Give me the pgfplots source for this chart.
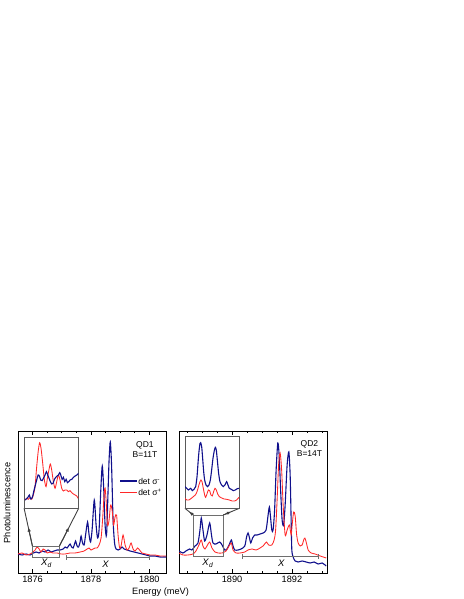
\documentclass[border=0pt]{standalone}
\usepackage{pgfplots}
\pgfplotsset{compat=1.18}
\usepackage{fontspec}
\setmainfont{Liberation Sans}
\usetikzlibrary{arrows.meta}
\definecolor{bl}{RGB}{16,16,140}
\definecolor{rd}{RGB}{255,40,40}
\definecolor{annot}{RGB}{110,110,110}
\tikzset{
  bline/.style={bl, line width=1.1pt},
  rline/.style={rd, line width=0.85pt},
  an/.style={annot, line width=0.9pt},
}
\pgfplotsset{
  mainax/.style={
    scale only axis, width=148pt, height=142pt, anchor=south west,
    ymin=0, ymax=142, ytick=\empty,
    xtick distance=2, minor x tick num=3,
    tick align=inside,
    major tick length=4pt, minor tick length=2.5pt,
    axis line style={line width=0.8pt},
    every tick/.style={black, line width=0.6pt},
    ticklabel style={font=\fontsize{9.2}{10}\selectfont},
    /pgf/number format/assume math mode=true,
    xticklabel style={/pgf/number format/1000 sep={}},
  },
  insax/.style={
    scale only axis, anchor=south west,
    xtick=\empty, ytick=\empty,
    axis line style={black!65, line width=1pt},
    axis background/.style={fill=white},
  },
}
\begin{document}
\begin{tikzpicture}[x=1pt,y=1pt]
\path[use as bounding box] (0pt,0pt) rectangle (463pt,599pt);

% ---------------- Panel 1 ----------------
\begin{axis}[mainax, at={(18pt,26pt)}, xmin=1875.5, xmax=1880.57]
\addplot[bline, smooth, tension=0.45] coordinates {
(1875.503,19)(1875.640,18)(1875.777,19)(1875.914,18)(1876.017,20)(1876.120,21)(1876.223,20)
(1876.325,22)(1876.428,21)(1876.531,23)(1876.634,21)(1876.736,22)(1876.839,23)(1876.942,23)
(1877.045,24)(1877.113,26)(1877.182,25)(1877.233,27)(1877.284,29)(1877.336,26)(1877.387,25)
(1877.438,29)(1877.473,32)(1877.524,27)(1877.575,26)(1877.627,31)(1877.661,37)(1877.712,30)
(1877.764,28)(1877.815,38)(1877.884,51)(1877.935,38)(1877.986,31)(1878.038,43)(1878.113,73)
(1878.175,48)(1878.226,35)(1878.277,43)(1878.336,83)(1878.387,107)(1878.438,83)(1878.483,48)
(1878.534,38)(1878.586,83)(1878.620,113)(1878.661,131)(1878.705,108)(1878.757,53)(1878.808,30)
(1878.860,24)(1878.928,23)(1878.997,24)(1879.065,26)(1879.134,24)(1879.236,23)(1879.339,22)
(1879.476,21)(1879.613,20)(1879.750,19)(1879.887,18)(1880.024,17)(1880.195,17)(1880.366,16)
(1880.572,16)};
\addplot[rline, smooth, tension=0.45] coordinates {
(1875.503,19)(1875.640,20)(1875.777,18)(1875.914,19)(1876.017,21)(1876.086,23)(1876.154,26)
(1876.223,24)(1876.291,21)(1876.360,24)(1876.428,23)(1876.497,20)(1876.599,21)(1876.702,20)
(1876.839,20)(1876.976,19)(1877.113,19)(1877.284,20)(1877.455,20)(1877.627,21)(1877.764,22)
(1877.866,24)(1877.935,25)(1878.003,23)(1878.072,24)(1878.140,25)(1878.209,25)(1878.277,28)
(1878.346,35)(1878.397,53)(1878.449,78)(1878.483,85)(1878.517,73)(1878.568,48)(1878.620,53)
(1878.671,68)(1878.723,63)(1878.774,48)(1878.825,56)(1878.877,58)(1878.928,38)(1878.980,25)
(1879.031,27)(1879.099,38)(1879.168,28)(1879.236,23)(1879.305,25)(1879.373,30)(1879.442,24)
(1879.510,22)(1879.596,25)(1879.664,23)(1879.750,20)(1879.887,19)(1880.024,18)(1880.195,18)
(1880.366,17)(1880.572,17)};
% legend (drawn as annotation)
\draw[bl, line width=1.1pt] (axis cs:1878.997,92) -- (axis cs:1879.569,92);
\draw[rd, line width=0.85pt] (axis cs:1878.997,81) -- (axis cs:1879.569,81);
\node[anchor=west, inner sep=0pt, font=\fontsize{8.5}{9}\selectfont] at (axis cs:1879.613,92) {det σ\textsuperscript{-}};
\node[anchor=west, inner sep=0pt, font=\fontsize{8.5}{9}\selectfont] at (axis cs:1879.613,81) {det σ\textsuperscript{+}};
% annotations
\draw[an] (axis cs:1875.994,16) rectangle (axis cs:1876.919,27);
\draw[an] (axis cs:1877.171,13.5) -- (axis cs:1877.171,18.5);
\draw[an] (axis cs:1877.171,16) -- (axis cs:1880,16);
\draw[an] (axis cs:1880,13.5) -- (axis cs:1880,18.5);
\draw[an, black!75] (axis cs:1875.994,27) -- (axis cs:1875.709,64.7);
\draw[an, black!75] (axis cs:1876.919,27) -- (axis cs:1877.58,64.7);
\draw[an, black!75, -{Latex[length=4.5pt,width=3.5pt]}] (axis cs:1875.994,27) -- (axis cs:1875.852,45.85);
\draw[an, black!75, -{Latex[length=4.5pt,width=3.5pt]}] (axis cs:1876.919,27) -- (axis cs:1877.25,45.85);
\node[font=\fontsize{9.5}{10}\selectfont] at (axis cs:1876.48,10) {\textit{X}\textsubscript{\textit{d}}};
\node[font=\fontsize{9.5}{10}\selectfont] at (axis cs:1878.5,9) {\textit{X}};
\node[font=\fontsize{8.5}{9}\selectfont] at (axis cs:1879.85,128) {QD1};
\node[font=\fontsize{8.5}{9}\selectfont] at (axis cs:1879.85,118.7) {B=11T};
\end{axis}

% inset 1
\begin{axis}[insax, at={(24pt,90.7pt)}, width=54.7pt, height=70.6pt,
  xmin=1876, xmax=1876.918, ymin=0, ymax=212]
\addplot[rline, smooth, tension=0.45] coordinates {
(1876.017,25)(1876.045,30)(1876.073,27)(1876.101,33)(1876.129,27)(1876.157,40)(1876.185,65)
(1876.213,125)(1876.241,175)(1876.263,197)(1876.286,180)(1876.314,135)(1876.342,85)(1876.370,65)
(1876.392,90)(1876.420,117)(1876.442,133)(1876.465,115)(1876.493,80)(1876.521,60)(1876.549,80)
(1876.577,100)(1876.605,85)(1876.633,60)(1876.661,52)(1876.689,55)(1876.717,55)(1876.745,50)
(1876.773,53)(1876.801,47)(1876.829,43)(1876.857,40)(1876.885,37)(1876.907,30)};
\addplot[bline, smooth, tension=0.45] coordinates {
(1876.017,25)(1876.045,29)(1876.073,35)(1876.090,40)(1876.112,28)(1876.140,33)(1876.163,50)
(1876.191,70)(1876.213,85)(1876.236,100)(1876.258,97)(1876.280,85)(1876.303,83)(1876.325,90)
(1876.353,100)(1876.376,110)(1876.398,100)(1876.421,90)(1876.443,80)(1876.466,73)(1876.488,75)
(1876.510,87)(1876.533,93)(1876.555,97)(1876.578,100)(1876.600,107)(1876.617,100)(1876.640,87)
(1876.662,93)(1876.684,80)(1876.707,87)(1876.729,77)(1876.752,80)(1876.774,85)(1876.802,87)
(1876.830,93)(1876.858,97)(1876.886,100)(1876.914,105)};
\end{axis}

% ---------------- Panel 2 ----------------
\begin{axis}[mainax, at={(179pt,26pt)}, xmin=1888.23, xmax=1893.17]
\addplot[bline, smooth, tension=0.45] coordinates {
(1888.227,22)(1888.361,20)(1888.462,22)(1888.585,24)(1888.662,23)(1888.763,27)(1888.863,30)
(1888.930,43)(1888.973,55)(1889.030,43)(1889.087,32)(1889.164,38)(1889.254,50)(1889.314,38)
(1889.365,30)(1889.465,29)(1889.589,31)(1889.666,28)(1889.756,23)(1889.833,24)(1889.916,29)
(1889.977,33)(1890.033,27)(1890.090,23)(1890.201,23)(1890.301,24)(1890.425,27)(1890.485,36)
(1890.535,40)(1890.585,35)(1890.625,30)(1890.686,35)(1890.759,38)(1890.836,38)(1890.936,39)
(1891.037,40)(1891.137,43)(1891.204,58)(1891.247,66)(1891.288,55)(1891.328,43)(1891.371,43)
(1891.421,63)(1891.472,103)(1891.528,130)(1891.572,118)(1891.622,83)(1891.672,53)(1891.722,48)
(1891.773,68)(1891.839,108)(1891.896,121)(1891.940,98)(1891.973,53)(1891.996,23)(1892.040,16)
(1892.107,12)(1892.207,11)(1892.341,12)(1892.475,11)(1892.609,10)(1892.742,11)(1892.876,9)
(1893.010,10)(1893.144,7)};
\addplot[rline, smooth, tension=0.45] coordinates {
(1888.227,20)(1888.361,18)(1888.528,18)(1888.696,19)(1888.796,22)(1888.896,28)(1888.973,33)
(1889.030,27)(1889.097,24)(1889.181,28)(1889.254,31)(1889.331,25)(1889.431,21)(1889.532,20)
(1889.666,20)(1889.799,22)(1889.900,27)(1889.977,30)(1890.033,23)(1890.134,20)(1890.268,20)
(1890.425,21)(1890.535,23)(1890.669,24)(1890.803,23)(1890.936,25)(1891.037,27)(1891.147,31)
(1891.221,28)(1891.328,28)(1891.405,33)(1891.455,43)(1891.505,73)(1891.555,108)(1891.605,120)
(1891.656,103)(1891.706,68)(1891.773,38)(1891.839,43)(1891.916,48)(1891.973,38)(1892.007,48)
(1892.057,61)(1892.107,57)(1892.157,38)(1892.207,30)(1892.274,27)(1892.341,28)(1892.391,33)
(1892.431,35)(1892.475,31)(1892.542,23)(1892.642,20)(1892.776,19)(1892.943,17)(1893.144,15)};
\draw[an] (axis cs:1888.706,16.3) rectangle (axis cs:1889.709,58);
\draw[an] (axis cs:1890.344,13.8) -- (axis cs:1890.344,18.8);
\draw[an] (axis cs:1890.344,16.3) -- (axis cs:1892.876,16.3);
\draw[an] (axis cs:1892.876,13.8) -- (axis cs:1892.876,18.8);
\draw[an, black!75] (axis cs:1888.706,58) -- (axis cs:1888.428,64.7);
\draw[an, black!75] (axis cs:1889.709,58) -- (axis cs:1890.244,64.7);
\draw[an, black!75, -{Latex[length=4.5pt,width=3.5pt]}] (axis cs:1888.706,58) -- (axis cs:1888.567,61.35);
\draw[an, black!75, -{Latex[length=4.5pt,width=3.5pt]}] (axis cs:1889.709,58) -- (axis cs:1889.977,61.35);
\node[font=\fontsize{9.5}{10}\selectfont] at (axis cs:1889.197,10) {\textit{X}\textsubscript{\textit{d}}};
\node[font=\fontsize{9.5}{10}\selectfont] at (axis cs:1891.649,9.5) {\textit{X}};
\node[font=\fontsize{8.5}{9}\selectfont] at (axis cs:1892.585,128.7) {QD2};
\node[font=\fontsize{8.5}{9}\selectfont] at (axis cs:1892.585,119.7) {B=14T};
\end{axis}

% inset 2
\begin{axis}[insax, at={(185pt,90.7pt)}, width=54.3pt, height=71.6pt,
  xmin=1888.706, xmax=1889.709, ymin=0, ymax=215]
\addplot[bline, smooth, tension=0.45] coordinates {
(1888.706,65)(1888.737,60)(1888.768,55)(1888.811,60)(1888.841,53)(1888.872,57)(1888.903,65)
(1888.928,95)(1888.946,135)(1888.964,170)(1888.983,195)(1888.995,197)(1889.014,185)(1889.032,150)
(1889.051,110)(1889.069,85)(1889.094,70)(1889.124,65)(1889.149,70)(1889.174,85)(1889.198,115)
(1889.223,150)(1889.247,173)(1889.266,183)(1889.284,175)(1889.303,145)(1889.327,105)(1889.352,80)
(1889.383,70)(1889.413,65)(1889.444,70)(1889.475,80)(1889.500,70)(1889.524,60)(1889.561,57)
(1889.598,53)(1889.635,55)(1889.672,59)(1889.703,60)};
\addplot[rline, smooth, tension=0.45] coordinates {
(1888.706,30)(1888.737,25)(1888.780,25)(1888.823,30)(1888.860,35)(1888.897,40)(1888.928,50)
(1888.958,67)(1888.983,80)(1889.001,85)(1889.020,80)(1889.044,60)(1889.069,40)(1889.087,33)
(1889.112,43)(1889.137,55)(1889.161,53)(1889.186,40)(1889.210,37)(1889.235,50)(1889.260,60)
(1889.284,55)(1889.309,43)(1889.340,35)(1889.383,31)(1889.426,28)(1889.475,27)(1889.524,25)
(1889.574,22)(1889.623,22)(1889.660,25)(1889.703,33)};
\end{axis}

% outer labels
\node[rotate=90, font=\fontsize{9.2}{10}\selectfont] at (7pt,96pt) {Photoluminescence};
\node[font=\fontsize{9.2}{10}\selectfont] at (160.5pt,7pt) {Energy (meV)};
\end{tikzpicture}
\end{document}
